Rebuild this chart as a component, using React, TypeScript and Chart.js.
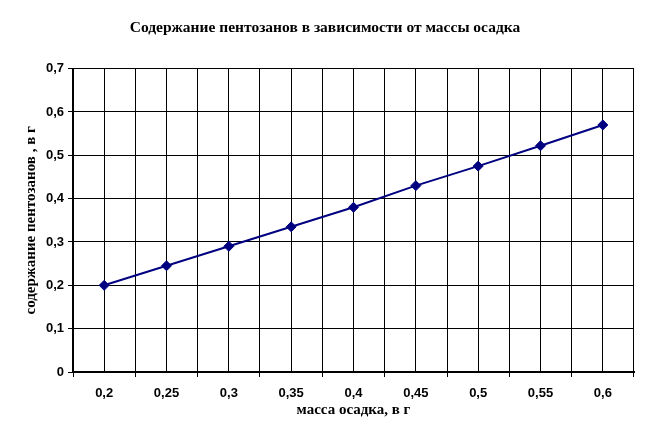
import React, { useEffect, useRef } from "react";
import { Chart, registerables } from "chart.js";

Chart.register(...registerables);

const masses = [0.2, 0.25, 0.3, 0.35, 0.4, 0.45, 0.5, 0.55, 0.6];
const massLabels = ["0,2", "0,25", "0,3", "0,35", "0,4", "0,45", "0,5", "0,55", "0,6"];
const pentosans = [0.2, 0.245, 0.29, 0.335, 0.38, 0.43, 0.475, 0.522, 0.57];
const yTickLabels = ["0", "0,1", "0,2", "0,3", "0,4", "0,5", "0,6", "0,7"];

const titleText = "Содержание пентозанов в зависимости от массы осадка";
const xTitle = "масса осадка, в г";
const yTitle = "содержание пентозанов , в г";

export default function App() {
  const ref = useRef<HTMLCanvasElement>(null);

  useEffect(() => {
    document.body.style.margin = "0";
    const canvas = ref.current;
    if (!canvas) return;
    const step = masses[1] - masses[0];
    const xMin = masses[0] - step / 2;
    const xMax = masses[masses.length - 1] + step / 2;
    const chart = new Chart(canvas, {
      type: "line",
      data: {
        datasets: [
          {
            data: masses.map((m, i) => ({ x: m, y: pentosans[i] })),
            borderColor: "#000080",
            backgroundColor: "#000080",
            borderWidth: 2,
            pointStyle: "rectRot",
            pointRadius: 5,
            pointBorderWidth: 1,
            pointBorderColor: "#000080",
            pointBackgroundColor: "#000080",
            tension: 0,
          },
        ],
      },
      options: {
        animation: false,
        responsive: false,
        devicePixelRatio: 1,
        layout: { padding: { left: 16, right: 16, top: 0, bottom: 0 } },
        plugins: {
          legend: { display: false },
          tooltip: { enabled: false },
          title: {
            display: true,
            text: titleText,
            color: "#000",
            font: { family: "Liberation Serif", size: 15.5, weight: "bold" },
            padding: { top: 19, bottom: 31 },
          },
        },
        scales: {
          x: {
            type: "linear",
            min: xMin,
            max: xMax,
            afterBuildTicks: (scale: any) => {
              const t: any[] = [];
              for (let i = 0; i <= masses.length * 2; i++) {
                t.push({ value: xMin + (i * step) / 2 });
              }
              scale.ticks = t;
            },
            afterFit: (scale: any) => {
              scale.height = 73;
            },
            ticks: {
              autoSkip: false,
              maxRotation: 0,
              minRotation: 0,
              padding: 9,
              color: "#000",
              font: { family: "Liberation Sans", size: 13, weight: "bold" },
              callback: (_v: any, index: number) =>
                index % 2 === 1 ? massLabels[(index - 1) / 2] : "",
            },
            grid: {
              color: "#000",
              lineWidth: 1,
              tickLength: 5,
              tickColor: (ctx: any) => (ctx.index % 2 === 0 ? "#000" : "rgba(0,0,0,0)"),
            },
            border: { display: true, color: "#000", width: 2 },
            title: {
              display: true,
              text: xTitle,
              color: "#000",
              font: { family: "Liberation Serif", size: 15, weight: "bold" },
              padding: { top: 0, bottom: 26 },
            },
          },
          y: {
            type: "linear",
            min: 0,
            max: 0.7,
            afterBuildTicks: (scale: any) => {
              scale.ticks = yTickLabels.map((_, i) => ({ value: i / 10 }));
            },
            afterFit: (scale: any) => {
              scale.width = 57;
            },
            ticks: {
              padding: 4,
              color: "#000",
              font: { family: "Liberation Sans", size: 13, weight: "bold" },
              callback: (_v: any, index: number) => yTickLabels[index],
            },
            grid: {
              color: "#000",
              lineWidth: 1,
              tickLength: 5,
              tickColor: "#000",
            },
            border: { display: true, color: "#000", width: 2 },
            title: {
              display: true,
              text: yTitle,
              color: "#000",
              font: { family: "Liberation Serif", size: 15, weight: "bold" },
              padding: { top: 6, bottom: 0 },
            },
          },
        },
      },
    });
    return () => chart.destroy();
  }, []);

  return (
    <div style={{ width: 650, height: 445 }}>
      <canvas ref={ref} width={650} height={445} style={{ display: "block" }} />
    </div>
  );
}
